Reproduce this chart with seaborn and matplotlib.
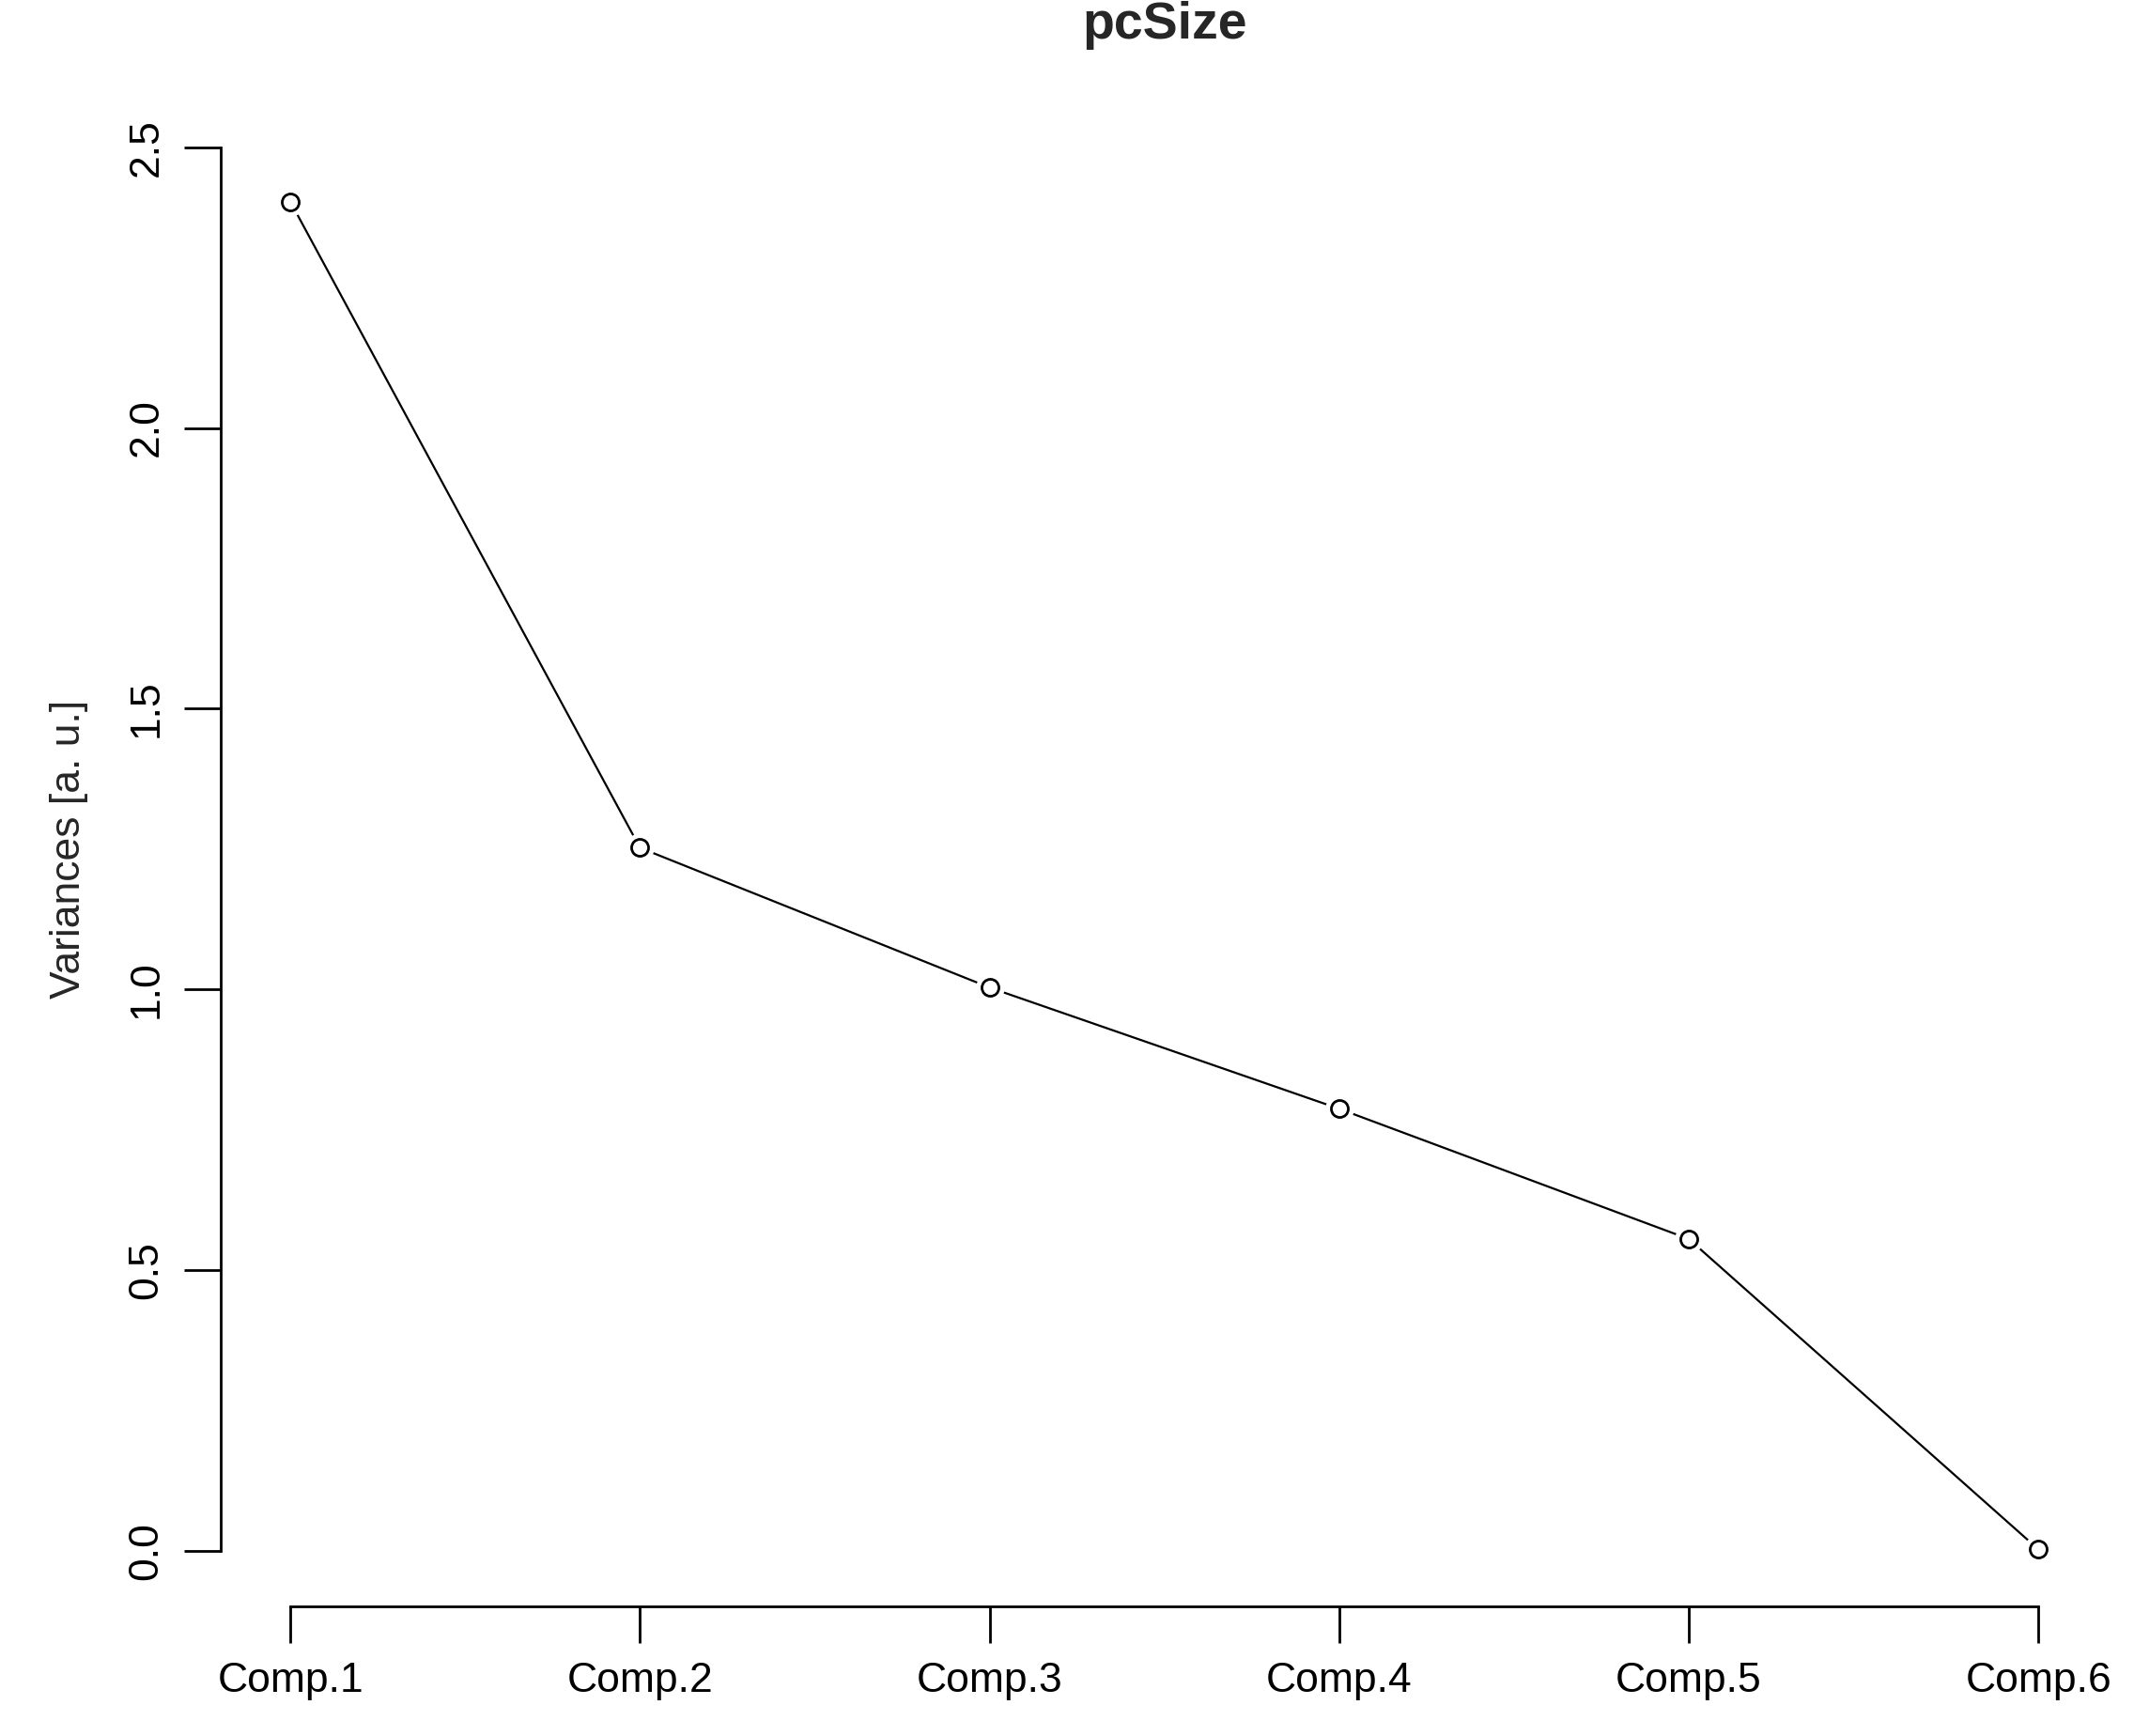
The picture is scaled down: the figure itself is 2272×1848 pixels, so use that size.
import pandas as pd
import matplotlib.pyplot as plt
import seaborn as sns

components = ['Comp.1', 'Comp.2', 'Comp.3', 'Comp.4', 'Comp.5', 'Comp.6']
variances = [2.403, 1.252, 1.003, 0.787, 0.555, 0.002]

df = pd.DataFrame({'pos': range(len(components)), 'var': variances})

sns.set_style('white')
plt.rcParams['font.family'] = ['Liberation Sans', 'DejaVu Sans']

fig = plt.figure(figsize=(22.72, 18.48), dpi=100)
ax = fig.add_axes([0.1033, 0.0745, 0.988 - 0.1033, 0.9475 - 0.0745])

# halo behind markers gives the R "type=b" gaps
sns.lineplot(data=df, x='pos', y='var', ax=ax, color='black', lw=1.6,
             marker='o', markersize=22, markerfacecolor='white',
             markeredgecolor='white', markeredgewidth=0)
ax.plot(df['pos'], df['var'], 'o', ms=13, mfc='white', mec='black', mew=2)

ax.set_xlim(-0.2, 5.2)
ax.set_ylim(-0.1, 2.6)
ax.set_xticks(df['pos'])
ax.set_xticklabels(components)
ax.set_yticks([0, 0.5, 1.0, 1.5, 2.0, 2.5])
ax.set_yticklabels(['0.0', '0.5', '1.0', '1.5', '2.0', '2.5'], rotation=90, va='center')
ax.tick_params(axis='both', labelsize=32, length=28, width=2, direction='out',
               left=True, bottom=True, pad=14, colors='black')

for s in ['top', 'right']:
    ax.spines[s].set_visible(False)
ax.spines['left'].set_bounds(0, 2.5)
ax.spines['bottom'].set_bounds(0, 5)
for s in ['left', 'bottom']:
    ax.spines[s].set_linewidth(2)
    ax.spines[s].set_color('black')

ax.set_xlabel('')
ax.set_ylabel('Variances [a. u.]', fontsize=32, labelpad=30)
ax.set_title('pcSize', fontsize=40, fontweight='bold', pad=40)

fig.savefig('out.png', dpi=100)
